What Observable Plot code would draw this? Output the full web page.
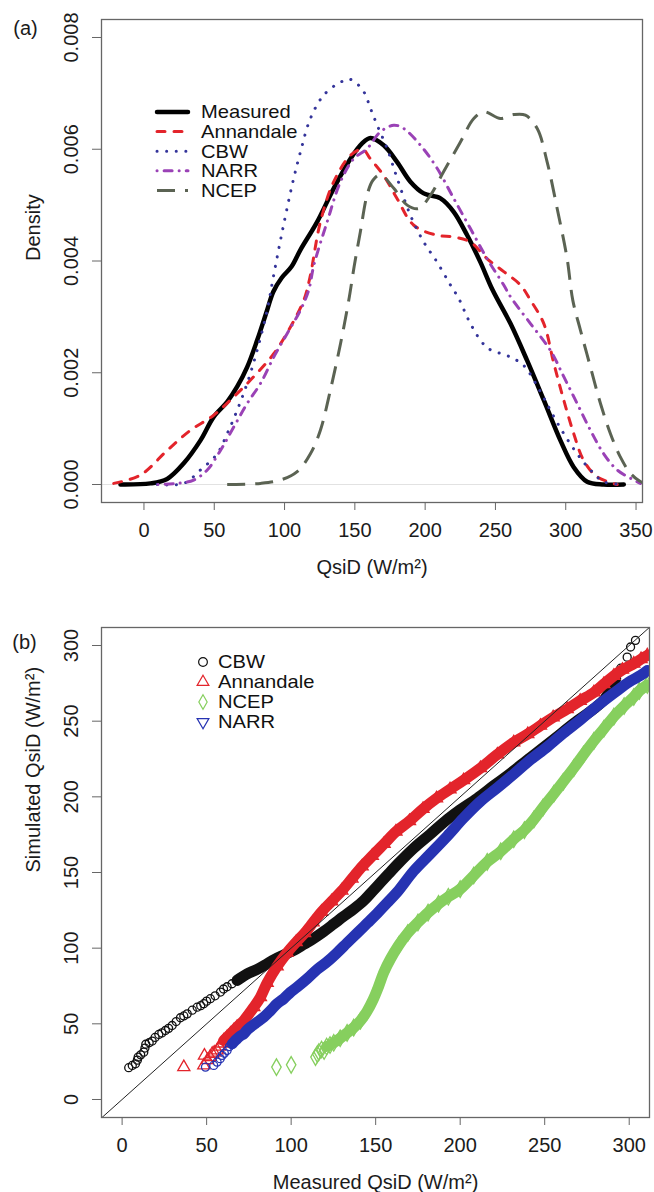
<!DOCTYPE html>
<html><head><meta charset="utf-8">
<script src="https://cdn.jsdelivr.net/npm/d3@7"></script>
<script src="https://cdn.jsdelivr.net/npm/@observablehq/plot@0.6"></script>
<style>
body{margin:0;background:#fff;width:654px;height:1192px;overflow:hidden;}
#a,#b{width:654px;}
svg{display:block}
</style></head><body><div id="a"></div><div id="b"></div>
<script>
// ---------- Panel (a): density curves, [QsiD, density] ----------
const measured = [[-16.7,0],[4.6,0.00002],[16.5,0.0001],[28.3,0.00038],[40.2,0.00079],[49.6,0.00121],[59.2,0.00148],[66.3,0.00175],[73.4,0.0021],[80.5,0.00258],[87.6,0.00312],[92,0.00345],[98,0.0037],[105,0.0039],[111.3,0.0042],[123.2,0.0047],[135,0.0053],[146.9,0.00583],[155,0.0061],[161.1,0.0062],[170.5,0.00607],[180.1,0.00577],[189.5,0.00542],[199,0.00521],[210.9,0.00512],[220.3,0.00488],[229.9,0.00446],[239.3,0.00398],[248,0.00348],[260.7,0.00288],[272.5,0.00222],[284.4,0.00151],[296.2,0.00079],[305.7,0.00031],[315.2,0.00005],[327,0],[341.3,0]];
const annandale = [[-21.5,0.00002],[-2.5,0.00017],[16.5,0.00061],[33.1,0.00097],[49.6,0.00124],[63.9,0.00157],[78.1,0.00193],[92.3,0.00234],[104.2,0.00282],[113.7,0.0033],[118,0.0037],[125.5,0.0047],[135,0.00542],[146.9,0.00589],[155.6,0.006],[161,0.00583],[170.5,0.00553],[180,0.00512],[191.9,0.00464],[208.5,0.00446],[220.3,0.00443],[232.2,0.00434],[244.1,0.00404],[255.9,0.00381],[267.8,0.00357],[274.9,0.0033],[284.4,0.00288],[291.5,0.00217],[298.6,0.00151],[305.7,0.00091],[312.8,0.00043],[322.3,0.00014],[336.6,0]];
const cbw = [[9.4,0],[28.3,0.00002],[40.2,0.00026],[52.1,0.00055],[59.2,0.00091],[66.3,0.00133],[73.4,0.00181],[80.5,0.0024],[87.6,0.00312],[92.3,0.00375],[98.3,0.00452],[105.4,0.00536],[111.3,0.00595],[118.4,0.00655],[127.9,0.00697],[139.8,0.0072],[146.9,0.00725],[156.3,0.00703],[161.1,0.00673],[165.9,0.00643],[173,0.00601],[180.1,0.00548],[189.5,0.00482],[199,0.00434],[208.5,0.00398],[218,0.00357],[223.9,0.00333],[231,0.00294],[239.4,0.00258],[245.2,0.00243],[260.7,0.00228],[270.1,0.00213],[282,0.00166],[290.3,0.00127],[298.6,0.00091],[308.1,0.00055],[317.6,0.00026],[327,0.00005],[341.3,0]];
const narr = [[10,0],[23.6,0.00002],[35.4,0.00008],[45,0.00026],[54.4,0.00061],[63.9,0.00103],[73.4,0.00145],[82.9,0.00181],[92.3,0.00228],[101.8,0.0027],[111.3,0.00312],[117.2,0.00348],[120.8,0.00392],[130.3,0.0047],[139.8,0.00542],[149.2,0.00583],[158.7,0.00601],[168.1,0.00631],[177.7,0.00643],[184.8,0.00637],[196.7,0.00607],[208.5,0.00566],[220.3,0.00512],[232.2,0.00458],[244.1,0.00404],[255.9,0.00357],[260.7,0.00336],[274.9,0.00288],[289.1,0.0024],[298.6,0.00193],[308.1,0.00145],[317.6,0.00097],[327,0.00055],[336.6,0.00026],[348.4,0.00008],[353.1,0.00002]];
const ncep = [[59.2,0],[82.9,0.00002],[97.1,0.00008],[109,0.00023],[118.4,0.00055],[125.5,0.00097],[132.6,0.00169],[139.8,0.00252],[145.7,0.0033],[149.5,0.0039],[153.9,0.00452],[158.7,0.00518],[163,0.00545],[168.2,0.00554],[177.7,0.0053],[187.2,0.005],[195.5,0.00494],[203.8,0.00518],[213.2,0.0056],[225.1,0.00613],[234.6,0.00655],[241.7,0.00667],[253.6,0.00655],[263,0.00662],[271.3,0.00661],[279.7,0.00637],[286.8,0.00577],[293.9,0.00494],[301,0.00404],[305,0.0033],[310.5,0.00276],[317.6,0.0021],[324.7,0.00145],[331.8,0.00091],[338.9,0.00049],[346,0.0002],[352,0.00007],[356,0.00002]];
const densityNames = ["Measured","Annandale","CBW","NARR","NCEP"];
const densityXTicks = [0,50,100,150,200,250,300,350];
const densityYTicks = [0,0.002,0.004,0.006,0.008];

// ---------- Panel (b): Q-Q points, [measured, simulated] ----------
const qqCBW = [[3.9,21],[6,22.5],[7.9,23.6],[9,26],[9.5,28],[11,29.5],[12.8,31.3],[13.5,34],[14,36.5],[16,37.5],[17.8,38.6],[19.5,41],[21.7,43],[23.5,44],[25.6,45.6],[27.5,47],[29.6,48.9],[32,51.5],[34.5,54],[36.5,55.2],[38.5,56.6],[41.5,59],[44.4,61],[46.5,62],[48.3,63.3],[50,65],[52.2,66.6],[55,68.5],[58.2,71],[60,73],[62.1,74.5],[65,76.5],[68,78.7],[74,83],[79.9,86],[85.8,89.7],[90,92.5],[95.6,95.5],[101.5,98.5],[107.5,102.5],[113.4,106.5],[119.3,111],[125.2,116],[131,121],[137.1,126],[143,131.5],[148,137.5],[153,143.5],[158,149.5],[163,155.5],[172.5,166],[182,175],[192.3,185],[200,191.5],[210,199],[220,207.5],[228,214],[241.6,226],[255.4,238],[267.2,248.5],[279.1,258.2],[285,264],[289,271],[292,278],[295,285],[298.8,292.3],[300.8,299],[303.7,303.4]];
const qqAnnandale = [[36.5,21.4],[48.3,22.5],[48.7,29],[50.5,26],[52,28],[53.3,30.2],[54.5,31],[56.2,32.4],[57.5,35],[58.8,37],[60.1,39],[62,41],[64.1,43.4],[66,45.5],[68,47.8],[72,52.2],[77.9,61],[81.8,67.6],[85.8,77],[91.7,88],[97.6,97],[103,104],[108,110],[113,117],[118,124],[124,131],[130,138],[136,146],[142,154],[148,161],[155,169],[162,177],[170,184],[178,192],[186,199],[194,205],[202,211],[212,219],[222,228],[231.7,236],[240,241.5],[247.5,247],[255,252.5],[263.3,258],[271,263.5],[279.1,269],[285,274.5],[290.9,280],[296,284],[302.7,288],[307,291],[310.7,293.5]];
const qqNCEP = [[91.3,21.4],[100,22.9],[114.4,28],[115.5,30],[116.4,31.3],[118,33],[119.5,32],[121,35],[123,36],[125.2,37.5],[129,40.5],[133.1,44],[137,47.5],[141,52],[145,58.5],[148.5,66],[151.5,74],[154.8,84],[158.8,93],[163.7,102],[169,110],[175,117],[181,123.5],[187.2,129.3],[193,134],[200,139],[208,148],[216,157],[224,164],[231.7,172],[238,178],[243.6,185],[249,193],[255.4,202],[261,210],[267.2,219],[273,228],[279.1,237],[285,245],[290.9,253],[297,260],[302.7,266],[306,270],[310.7,274]];
const qqNARR = [[49.3,21.4],[54.2,22.5],[56.2,24.7],[58,27],[59.2,29.1],[60.5,30.5],[62.1,32.4],[63.5,35],[65.1,36.8],[66.5,38.5],[68,40.1],[70,42],[72,43.4],[74,46],[75.9,47.8],[77.9,49.5],[79.9,51.1],[83.8,54.4],[87.8,58.8],[91.7,63.3],[95.6,66.6],[99.6,70.9],[103.6,74.3],[109.5,79.8],[115.4,86],[121.3,91],[127.2,97],[133.1,103.5],[139.1,110],[145,116.5],[150.9,123],[156.8,130],[162.7,137],[172.5,151],[182,162],[192.3,174],[202,186],[212,197],[222,206],[231.7,215],[241,224],[251.5,233],[261,242],[271.2,251],[281,260],[290.9,268.5],[300,276],[306.7,280.2],[310.7,283.5]];
const qqNames = ["CBW","Annandale","NCEP","NARR"];
const qqBandFrom = [66, 60, 121, 64];   // measured value where points merge into a band
const qqBandTo = [292, 400, 400, 400];
const qqTicks = [0,50,100,150,200,250,300];
const oneToOne = [-12, 312];

// ---------- styles ----------
const FONT = '"Liberation Sans", Arial, Helvetica, sans-serif';
const densityStyles = [
  {color:"#000000", width:4.5, dash:null, cap:"round"},
  {color:"#e3242b", width:3, dash:"8,9", cap:"round"},
  {color:"#34349a", width:3, dash:"0.1,9.5", cap:"round"},
  {color:"#9a42b6", width:3, dash:"0.1,7,8,7", cap:"round"},
  {color:"#5b6353", width:3, dash:"18,10", cap:"butt"}
];
const qqStyles = [
  {color:"#111111", symbol:"circle", r:4, legendRotate:0},
  {color:"#e3242b", symbol:"triangle", r:4.5, legendRotate:0},
  {color:"#86cf5e", symbol:"diamond", r:5, legendRotate:0},
  {color:"#2633b2", symbol:"circle", r:4, legendSymbol:"triangle", legendRotate:180}
];
const legendFont = 18, legendStretch = 1.12;

const densitySeries = [measured, annandale, cbw, narr, ncep];
const qqSeries = [qqCBW, qqAnnandale, qqNCEP, qqNARR];
const fmt3 = d3.format(".3f");

// ---------- Plot (a) ----------
const plotA = Plot.plot({
  width: 654, height: 600,
  marginLeft: 101, marginRight: 12, marginTop: 19, marginBottom: 98,
  style: {fontFamily: FONT, fontSize: "20px", color: "#1b1b1b", background: "white"},
  x: {domain: [-30.2, 354.6]},
  y: {domain: [-0.000322, 0.008322]},
  marks: [
    Plot.ruleY([0], {stroke: "#e2e2e2", strokeWidth: 1.2}),
    ...densitySeries.map((s, i) => Plot.line(s, {
      x: d => d[0], y: d => d[1], clip: true, curve: "catmull-rom",
      stroke: densityStyles[i].color, strokeWidth: densityStyles[i].width,
      strokeDasharray: densityStyles[i].dash, strokeLinecap: densityStyles[i].cap
    })),
    Plot.frame({stroke: "#666", strokeWidth: 1.3}),
    Plot.axisX({ticks: densityXTicks, tickSize: 8, tickFormat: () => "", label: null, stroke: "#666"}),
    Plot.axisY({ticks: densityYTicks, tickSize: 9, tickFormat: () => "", label: null, stroke: "#666"}),
    Plot.text(densityXTicks, {x: d => d, frameAnchor: "bottom", dy: 28, text: d => String(d), fontSize: 20, lineAnchor: "middle"}),
    Plot.text(densityYTicks, {y: d => d, frameAnchor: "left", dx: -30, rotate: -90, text: d => fmt3(d), fontSize: 20, lineAnchor: "middle", textAnchor: "middle"}),
    Plot.text(["QsiD (W/m²)"], {frameAnchor: "bottom", dy: 65, text: d => d, fontSize: 20, lineAnchor: "middle"}),
    Plot.text(["Density"], {frameAnchor: "left", dx: -68, rotate: -90, text: d => d, fontSize: 20, lineAnchor: "middle"}),
    Plot.text(["(a)"], {frameAnchor: "top-left", dx: -76, dy: 9, text: d => d, fontSize: 20, lineAnchor: "middle", textAnchor: "middle"})
  ]
});
document.getElementById("a").appendChild(plotA);

// legend (a)
{
  const g = d3.select(plotA).append("g").attr("font-family", FONT).attr("font-size", legendFont)
    .attr("fill", "#111").attr("text-anchor", "start");
  densityNames.forEach((name, i) => {
    const y = 112 + i * 19.6, st = densityStyles[i];
    g.append("line").attr("x1", 157).attr("x2", 188).attr("y1", y).attr("y2", y)
      .attr("stroke", st.color).attr("stroke-width", st.width)
      .attr("stroke-dasharray", st.dash).attr("stroke-linecap", st.cap);
    g.append("text").attr("transform", `translate(201,${y}) scale(${legendStretch},1)`)
      .attr("dy", "0.36em").text(name);
  });
}

// ---------- Plot (b) ----------
const plotB = Plot.plot({
  width: 654, height: 592,
  marginLeft: 101, marginRight: 5, marginTop: 27, marginBottom: 75,
  style: {fontFamily: FONT, fontSize: "20px", color: "#1b1b1b", background: "white"},
  x: {domain: [-12.2, 312]},
  y: {domain: [-11.9, 311.9]},
  marks: [
    ...qqSeries.flatMap((s, i) => {
      const st = qqStyles[i];
      const band = s.filter(d => d[0] >= qqBandFrom[i] && d[0] <= qqBandTo[i]);
      return [
        Plot.dot(s, {x: d => d[0], y: d => d[1], clip: true, symbol: st.symbol, r: st.r,
          stroke: st.color, strokeWidth: 1.3, fill: "none"}),
        Plot.line(band, {x: d => d[0], y: d => d[1], clip: true, curve: "catmull-rom",
          stroke: st.color, strokeWidth: 11, strokeLinecap: "round", strokeLinejoin: "round"})
      ];
    }),
    Plot.line(oneToOne, {x: d => d, y: d => d, clip: true, stroke: "#222", strokeWidth: 1}),
    Plot.frame({stroke: "#666", strokeWidth: 1.3}),
    Plot.axisX({ticks: qqTicks, tickSize: 8, tickFormat: () => "", label: null, stroke: "#666"}),
    Plot.axisY({ticks: qqTicks, tickSize: 9, tickFormat: () => "", label: null, stroke: "#666"}),
    Plot.text(qqTicks, {x: d => d, frameAnchor: "bottom", dy: 28, text: d => String(d), fontSize: 20, lineAnchor: "middle"}),
    Plot.text(qqTicks, {y: d => d, frameAnchor: "left", dx: -30, rotate: -90, text: d => String(d), fontSize: 20, lineAnchor: "middle", textAnchor: "middle"}),
    Plot.text(["Measured QsiD (W/m²)"], {frameAnchor: "bottom", dy: 65, text: d => d, fontSize: 20, lineAnchor: "middle"}),
    Plot.text(["Simulated QsiD (W/m²)"], {frameAnchor: "left", dx: -68, rotate: -90, text: d => d, fontSize: 20, lineAnchor: "middle"}),
    Plot.text(["(b)"], {frameAnchor: "top-left", dx: -77, dy: 15, text: d => d, fontSize: 20, lineAnchor: "middle", textAnchor: "middle"})
  ]
});
document.getElementById("b").appendChild(plotB);

// legend (b)
{
  const g = d3.select(plotB).append("g").attr("font-family", FONT).attr("font-size", legendFont)
    .attr("fill", "#111").attr("text-anchor", "start");
  qqNames.forEach((name, i) => {
    const y = 62 + i * 20, st = qqStyles[i];
    const sym = {circle: d3.symbolCircle, triangle: d3.symbolTriangle, diamond: d3.symbolDiamond}[st.legendSymbol || st.symbol];
    g.append("path").attr("d", d3.symbol(sym, 60)())
      .attr("transform", `translate(203,${y}) rotate(${st.legendRotate})`)
      .attr("fill", "none").attr("stroke", st.color).attr("stroke-width", 1.2);
    g.append("text").attr("transform", `translate(218,${y}) scale(${legendStretch},1)`)
      .attr("dy", "0.36em").text(name);
  });
}
</script></body></html>
